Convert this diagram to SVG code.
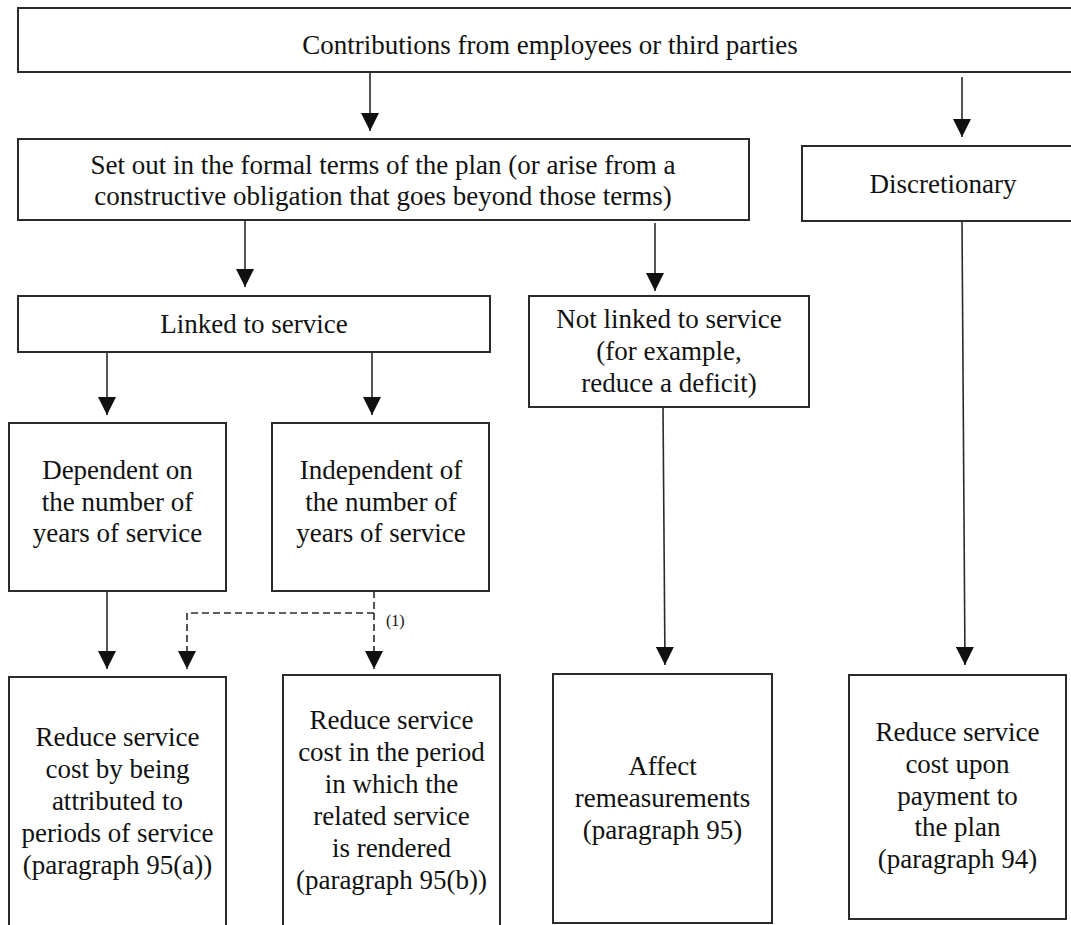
<svg xmlns="http://www.w3.org/2000/svg" width="1071" height="925" viewBox="0 0 1071 925">
<style>
.box{fill:#fff;stroke:#2b2b2b;stroke-width:2}
.t{font-family:"Liberation Serif","Times New Roman",serif;font-size:27px;fill:#111;text-anchor:middle}
.c{fill:none;stroke:#2b2b2b;stroke-width:1.6}
.d{stroke-dasharray:7 4}
.n{font-family:"Liberation Serif","Times New Roman",serif;font-size:16px;fill:#111}
</style>
<defs>
<marker id="ah" markerUnits="userSpaceOnUse" viewBox="0 0 18 18" refX="18" refY="9" markerWidth="18" markerHeight="18" orient="auto">
<path d="M0,0 L18,9 L0,18 z" fill="#111"/>
</marker>
</defs>
<rect width="1071" height="925" fill="#fff"/>
<g id="connectors">
<path class="c" d="M370,72 V131" marker-end="url(#ah)"/>
<path class="c" d="M962,77 V137" marker-end="url(#ah)"/>
<path class="c" d="M245,221 V287" marker-end="url(#ah)"/>
<path class="c" d="M655,223 V291" marker-end="url(#ah)"/>
<path class="c" d="M107,352 V415" marker-end="url(#ah)"/>
<path class="c" d="M372,352 V415" marker-end="url(#ah)"/>
<path class="c" d="M107,591 V669" marker-end="url(#ah)"/>
<path class="c d" d="M374,591 V669" marker-end="url(#ah)"/>
<path class="c d" d="M374,613 H187 V669" marker-end="url(#ah)"/>
<path class="c" d="M663,407 L665,665" marker-end="url(#ah)"/>
<path class="c" d="M962,221 L965,665" marker-end="url(#ah)"/>
<text class="n" x="386" y="626">(1)</text>
</g>
<g id="n-contrib">
<rect class="box" x="18" y="8" width="1070" height="64"/>
<text class="t" x="550" y="54">Contributions from employees or third parties</text>
</g>
<g id="n-setout">
<rect class="box" x="18" y="139" width="731" height="81"/>
<text class="t" x="383" y="174">Set out in the formal terms of the plan (or arise from a</text>
<text class="t" x="383" y="205">constructive obligation that goes beyond those terms)</text>
</g>
<g id="n-discretionary">
<rect class="box" x="802" y="146" width="290" height="75"/>
<text class="t" x="943" y="193">Discretionary</text>
</g>
<g id="n-linked">
<rect class="box" x="18" y="296" width="472" height="56"/>
<text class="t" x="254" y="333">Linked to service</text>
</g>
<g id="n-notlinked">
<rect class="box" x="529" y="296" width="280" height="111"/>
<text class="t" x="669" y="328">Not linked to service</text>
<text class="t" x="669" y="360">(for example,</text>
<text class="t" x="669" y="392">reduce a deficit)</text>
</g>
<g id="n-dependent">
<rect class="box" x="9" y="423" width="217" height="168"/>
<text class="t" x="117.5" y="479">Dependent on</text>
<text class="t" x="117.5" y="511">the number of</text>
<text class="t" x="117.5" y="542">years of service</text>
</g>
<g id="n-independent">
<rect class="box" x="272" y="423" width="217" height="168"/>
<text class="t" x="381" y="479">Independent of</text>
<text class="t" x="381" y="511">the number of</text>
<text class="t" x="381" y="542">years of service</text>
</g>
<g id="n-reduce-a">
<rect class="box" x="9" y="677" width="217" height="270"/>
<text class="t" x="117.5" y="746">Reduce service</text>
<text class="t" x="117.5" y="778">cost by being</text>
<text class="t" x="117.5" y="810">attributed to</text>
<text class="t" x="117.5" y="842">periods of service</text>
<text class="t" x="117.5" y="874">(paragraph 95(a))</text>
</g>
<g id="n-reduce-b">
<rect class="box" x="283" y="675" width="217" height="270"/>
<text class="t" x="391.5" y="729">Reduce service</text>
<text class="t" x="391.5" y="761">cost in the period</text>
<text class="t" x="391.5" y="793">in which the</text>
<text class="t" x="391.5" y="825">related service</text>
<text class="t" x="391.5" y="857">is rendered</text>
<text class="t" x="391.5" y="889">(paragraph 95(b))</text>
</g>
<g id="n-affect">
<rect class="box" x="553" y="674" width="219" height="249"/>
<text class="t" x="662.5" y="775">Affect</text>
<text class="t" x="662.5" y="807">remeasurements</text>
<text class="t" x="662.5" y="839">(paragraph 95)</text>
</g>
<g id="n-reduce-d">
<rect class="box" x="849" y="675" width="217" height="244"/>
<text class="t" x="957.5" y="741">Reduce service</text>
<text class="t" x="957.5" y="773">cost upon</text>
<text class="t" x="957.5" y="805">payment to</text>
<text class="t" x="957.5" y="836">the plan</text>
<text class="t" x="957.5" y="868">(paragraph 94)</text>
</g>
</svg>
